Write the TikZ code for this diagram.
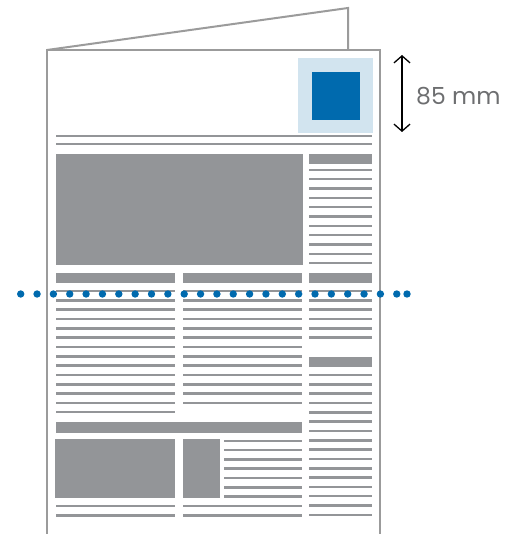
\documentclass[tikz,border=0pt]{standalone}
\usepackage{fontspec}
\setmainfont{Poppins}
\usetikzlibrary{arrows.meta}
\definecolor{pagegray}{HTML}{9B9B9B}
\definecolor{blockgray}{HTML}{939598}
\definecolor{adblue}{HTML}{006AAE}
\definecolor{adlight}{HTML}{D2E4EF}
\definecolor{labelgray}{HTML}{6D6E70}

\begin{document}
\begin{tikzpicture}[x=1pt,y=-1pt,
  page/.style={draw=pagegray,line width=2pt},
  block/.style={fill=blockgray},
  txt/.style={draw=blockgray,line width=2.4pt},
  dot/.style={circle,fill=adblue,inner sep=0pt,minimum size=7.4pt},
  dim/.style={{Straight Barb[length=7pt,width=16pt,line width=1.3pt]}-{Straight Barb[length=7pt,width=16pt,line width=1.3pt]},line width=1.3pt}]
  \useasboundingbox (0,0) rectangle (507,534);
  % Folded page
  \draw[page] (47,50) -- (348,8) -- (348,50);
  \draw[page] (47,534) -- (47,50) -- (380,50) -- (380,534);
  % Ad space
  \fill[adlight] (298,58) rectangle (373,133);
  \fill[adblue] (312,72) rectangle (360,120);
  \coordinate (dimtop) at (402,55);
  \coordinate (dimbot) at (402,132);
  \draw[dim] (dimtop) -- (dimbot);
  \node[anchor=west,font=\fontsize{23.5}{26}\selectfont,text=labelgray,inner sep=0pt] (dimlabel) at (416,96) {85 mm};
  % Masthead rules
  \draw[txt] (56,136) -- (372,136);
  \draw[txt] (56,144) -- (372,144);
  % Lead picture and side column
  \fill[block] (56,154) rectangle (303,265);
  \fill[block] (309,154) rectangle (372,164);
  \foreach \i in {0,...,10}
    \draw[txt] (309,170+9.3*\i) -- (372,170+9.3*\i);
  % Headlines
  \fill[block] (56,273) rectangle (175,283);
  \fill[block] (183,273) rectangle (302,283);
  \fill[block] (309,273) rectangle (372,283);
  % Text columns
  \foreach \i in {0,...,13}
    \draw[txt] (56,291+9.33*\i) -- (175,291+9.33*\i);
  \foreach \i in {0,...,12}
    \draw[txt] (183,291+9.33*\i) -- (302,291+9.33*\i);
  \foreach \i in {0,...,5}
    \draw[txt] (309,291+9.33*\i) -- (372,291+9.33*\i);
  \fill[block] (309,357) rectangle (372,367);
  \foreach \i in {0,...,15}
    \draw[txt] (309,375+9.33*\i) -- (372,375+9.33*\i);
  % Lower story
  \fill[block] (56,422) rectangle (302,433);
  \fill[block] (55,439) rectangle (175,498);
  \fill[block] (183,439) rectangle (220,498);
  \foreach \i in {0,...,6}
    \draw[txt] (224,440.7+9.33*\i) -- (302,440.7+9.33*\i);
  \foreach \i in {0,1} {
    \draw[txt] (56,506+9.33*\i) -- (175,506+9.33*\i);
    \draw[txt] (183,506+9.33*\i) -- (302,506+9.33*\i);
  }
  % Fold line
  \foreach \i in {0,...,23}
    \node[dot] (fold\i) at (20.7+16.35*\i,294) {};
  \node[dot] (foldend) at (407,294) {};
\end{tikzpicture}
\end{document}
